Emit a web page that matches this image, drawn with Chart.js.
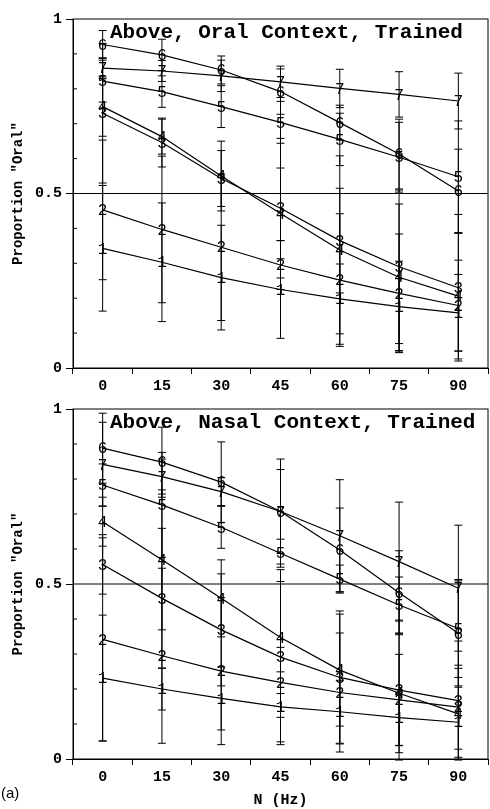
<!DOCTYPE html>
<html lang="en">
<head>
    <meta charset="UTF-8">
    <title>Proportion Oral</title>
    <style>
        body { margin: 0; background: #fff; width: 490px; height: 809px; position: relative; overflow: hidden; }
        canvas { position: absolute; left: 0; }
        #panelTag { position: absolute; left: 1px; top: 784px; font: 15px "Liberation Sans", Arial, sans-serif; color: #000; }
    </style>
</head>
<body>

    <canvas id="oralChart" width="490" height="400" style="top:0px"></canvas>
    <canvas id="nasalChart" width="490" height="419" style="top:390px"></canvas>
    <div id="panelTag">(a)</div>

    <script src="https://cdn.jsdelivr.net/npm/chart.js"></script>

    <script>
        // x categories (N in Hz) and the curve numbers
        const xLabels = ['0', '15', '30', '45', '60', '75', '90'];
        const seriesNames = ['1', '2', '3', '4', '5', '6', '7'];
        const yTicks = [0, 0.5, 1];

        // Above, Oral Context, Trained: means and half error bars, one row per curve
        const oralMeans = [
            [0.343, 0.303, 0.259, 0.225, 0.198, 0.176, 0.158],
            [0.453, 0.397, 0.346, 0.295, 0.252, 0.214, 0.179],
            [0.730, 0.646, 0.543, 0.458, 0.365, 0.290, 0.230],
            [0.749, 0.663, 0.550, 0.443, 0.338, 0.260, 0.206],
            [0.822, 0.792, 0.749, 0.704, 0.655, 0.604, 0.548],
            [0.927, 0.897, 0.854, 0.792, 0.703, 0.613, 0.507],
            [0.859, 0.851, 0.837, 0.820, 0.801, 0.784, 0.765]
        ];
        const oralErr = [
            [0.18, 0.17, 0.15, 0.14, 0.10, 0.13, 0.11],
            [0.20, 0.21, 0.21, 0.07, 0.19, 0.17, 0.13],
            [0.20, 0.07, 0.08, 0.20, 0.15, 0.22, 0.21],
            [0.085, 0.05, 0.10, 0.13, 0.27, 0.21, 0.18],
            [0.06, 0.045, 0.06, 0.06, 0.075, 0.10, 0.16],
            [0.04, 0.045, 0.04, 0.065, 0.05, 0.10, 0.12],
            [0.03, 0.03, 0.045, 0.045, 0.055, 0.065, 0.08]
        ];

        // Above, Nasal Context, Trained
        const nasalMeans = [
            [0.231, 0.200, 0.173, 0.149, 0.135, 0.118, 0.105],
            [0.342, 0.295, 0.251, 0.219, 0.190, 0.169, 0.148],
            [0.556, 0.459, 0.369, 0.291, 0.233, 0.197, 0.167],
            [0.678, 0.569, 0.459, 0.347, 0.254, 0.188, 0.129],
            [0.783, 0.726, 0.662, 0.588, 0.514, 0.440, 0.373],
            [0.888, 0.848, 0.791, 0.707, 0.597, 0.475, 0.359],
            [0.842, 0.807, 0.764, 0.707, 0.638, 0.564, 0.488]
        ];
        const nasalErr = [
            [0.18, 0.06, 0.09, 0.10, 0.09, 0.08, 0.10],
            [0.29, 0.25, 0.21, 0.10, 0.17, 0.13, 0.12],
            [0.085, 0.20, 0.16, 0.25, 0.19, 0.20, 0.17],
            [0.07, 0.20, 0.11, 0.16, 0.16, 0.17, 0.13],
            [0.06, 0.15, 0.06, 0.04, 0.04, 0.08, 0.14],
            [0.10, 0.10, 0.115, 0.12, 0.12, 0.12, 0.15],
            [0.12, 0.05, 0.04, 0.15, 0.16, 0.17, 0.18]
        ];

        const mono = '"Liberation Mono", "Courier New", monospace';

        function makeChart(canvasId, panelTitle, means, errs, xTitle, axisHeight) {

            // error bars, box, 0.5 line, minor ticks, digit markers, panel title
            const decorations = {
                id: 'decorations',
                beforeDatasetsDraw(chart) {
                    const c = chart.ctx;
                    const xs = chart.scales.x;
                    const ys = chart.scales.y;
                    const a = chart.chartArea;
                    c.save();
                    c.strokeStyle = '#000';
                    c.lineWidth = 1;
                    // box
                    c.strokeRect(a.left, a.top, a.right - a.left, a.bottom - a.top);
                    // reference line at 0.5
                    const yh = ys.getPixelForValue(0.5);
                    c.beginPath();
                    c.moveTo(a.left, yh);
                    c.lineTo(a.right, yh);
                    c.stroke();
                    // minor ticks inside left axis
                    for (let k = 1; k < 10; k++) {
                        if (k === 5) continue;
                        const yy = ys.getPixelForValue(k / 10);
                        c.beginPath();
                        c.moveTo(a.left, yy);
                        c.lineTo(a.left + 4, yy);
                        c.stroke();
                    }
                    // error bars
                    for (let s = 0; s < means.length; s++) {
                        for (let i = 0; i < means[s].length; i++) {
                            const px = xs.getPixelForValue(i);
                            const y1 = ys.getPixelForValue(means[s][i] + errs[s][i]);
                            const y2 = ys.getPixelForValue(means[s][i] - errs[s][i]);
                            c.beginPath();
                            c.moveTo(px, y1);
                            c.lineTo(px, y2);
                            c.moveTo(px - 4, y1);
                            c.lineTo(px + 4, y1);
                            c.moveTo(px - 4, y2);
                            c.lineTo(px + 4, y2);
                            c.stroke();
                        }
                    }
                    c.restore();
                },
                afterDatasetsDraw(chart) {
                    const c = chart.ctx;
                    const a = chart.chartArea;
                    c.save();
                    c.fillStyle = '#000';
                    c.font = '16px ' + mono;
                    c.textAlign = 'center';
                    c.textBaseline = 'middle';
                    chart.data.datasets.forEach((ds, s) => {
                        chart.getDatasetMeta(s).data.forEach(pt => {
                            c.fillText(ds.label, pt.x, pt.y + 1);
                        });
                    });
                    c.font = 'bold 21px ' + mono;
                    c.textAlign = 'left';
                    c.fillText(panelTitle, a.left + 37, a.top + 14);
                    c.restore();
                }
            };

            const datasets = means.map((row, s) => ({
                label: seriesNames[s],
                data: row,
                borderColor: '#000',
                borderWidth: 1.2,
                pointRadius: 0,
                tension: 0,
                fill: false
            }));

            return new Chart(document.getElementById(canvasId), {
                type: 'line',
                data: { labels: xLabels, datasets: datasets },
                plugins: [decorations],
                options: {
                    responsive: false,
                    animation: false,
                    layout: { padding: { top: 19, right: 2, left: 0, bottom: 0 } },
                    plugins: { legend: { display: false }, tooltip: { enabled: false } },
                    scales: {
                        x: {
                            type: 'category',
                            offset: true,
                            afterFit(scale) { scale.height = axisHeight; },
                            grid: { offset: true, drawOnChartArea: false, drawTicks: true, tickLength: 6, color: '#000' },
                            border: { display: true, color: '#000', width: 1 },
                            ticks: { color: '#000', padding: 3, maxRotation: 0, font: { family: mono, size: 15, weight: 'bold' } },
                            title: {
                                display: xTitle !== '',
                                text: xTitle,
                                color: '#000',
                                padding: { top: 0, bottom: 0 },
                                font: { family: mono, size: 15, weight: 'bold' }
                            }
                        },
                        y: {
                            min: 0,
                            max: 1,
                            afterFit(scale) { scale.width = 73; },
                            afterBuildTicks(scale) { scale.ticks = yTicks.map(v => ({ value: v })); },
                            grid: { drawOnChartArea: false, drawTicks: true, tickLength: 7, color: '#000' },
                            border: { display: true, color: '#000', width: 1 },
                            ticks: {
                                color: '#000',
                                padding: 4,
                                font: { family: mono, size: 15, weight: 'bold' },
                                callback: v => String(v)
                            },
                            title: {
                                display: true,
                                text: 'Proportion "Oral"',
                                color: '#000',
                                padding: { top: 10, bottom: 0 },
                                font: { family: mono, size: 14, weight: 'bold' }
                            }
                        }
                    }
                }
            });
        }

        makeChart('oralChart', 'Above, Oral Context, Trained', oralMeans, oralErr, '', 32);
        makeChart('nasalChart', 'Above, Nasal Context, Trained', nasalMeans, nasalErr, 'N (Hz)', 50);
    </script>

</body>
</html>
